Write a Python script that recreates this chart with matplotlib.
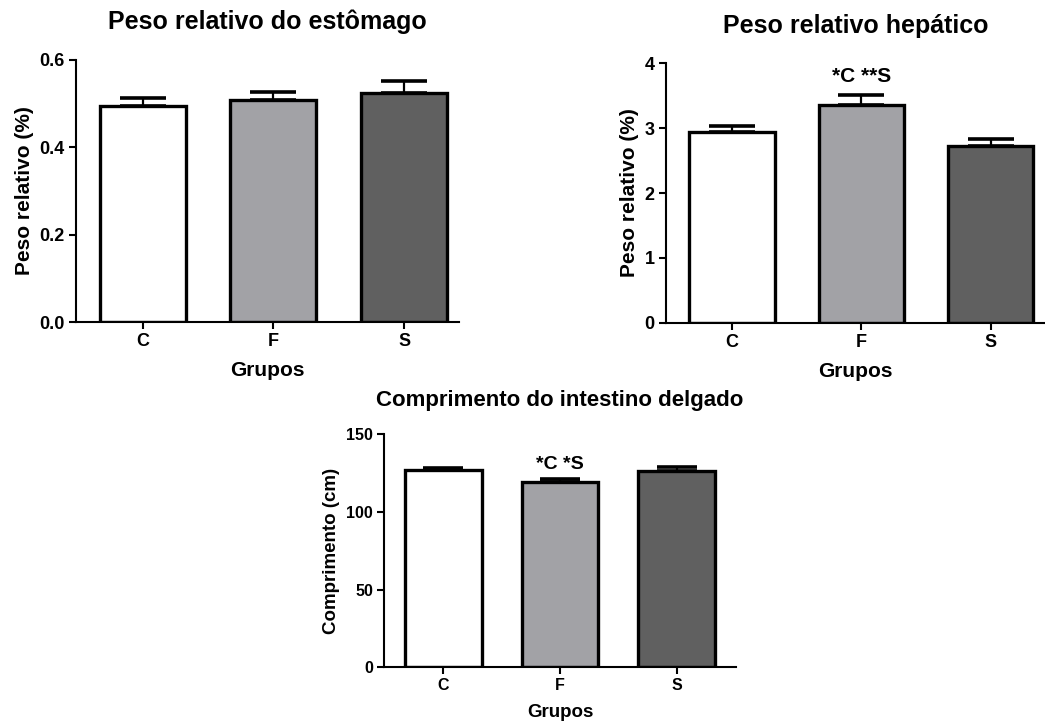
import matplotlib.pyplot as plt

plt.rcParams['font.family'] = ['Liberation Sans', 'DejaVu Sans']
plt.rcParams['font.weight'] = 'bold'

# ******************** DATA ********************
groups = ['C', 'F', 'S']
bar_colors = ['#ffffff', '#a2a2a6', '#606060']

stomach_mean = [0.495, 0.508, 0.524]
stomach_sem = [0.018, 0.019, 0.029]

liver_mean = [2.94, 3.36, 2.73]
liver_sem = [0.10, 0.15, 0.10]
liver_note = '*C **S'

intestine_mean = [126.9, 119.3, 126.4]
intestine_sem = [1.3, 2.0, 2.6]
intestine_note = '*C *S'


def barPanel(ax, means, sems, title, ylabel, yticks, xmax, capsize, note=None, note_y=None,
             fs_title=18, fs_tick=13, fs_label=15, fs_note=15, title_pad=22):
    x = range(len(groups))
    ax.bar(x, means, width=0.66, color=bar_colors, edgecolor='black', linewidth=2.4, zorder=2)
    # upper error bar only, drawn behind the bar
    ax.errorbar(x, means, yerr=[[0] * len(sems), sems], fmt='none', ecolor='black',
                elinewidth=1.6, capsize=capsize, capthick=2.6, zorder=1)
    ax.set_xlim(-0.51, xmax)
    ax.set_ylim(yticks[0], yticks[-1])
    ax.set_yticks(yticks)
    ax.set_xticks(list(x))
    ax.set_xticklabels(groups)
    ax.spines['top'].set_visible(False)
    ax.spines['right'].set_visible(False)
    ax.spines['left'].set_linewidth(1.5)
    ax.spines['bottom'].set_linewidth(1.5)
    ax.tick_params(direction='out', length=5, width=1.5, labelsize=fs_tick, pad=3)
    ax.set_title(title, fontsize=fs_title, fontweight='bold', pad=title_pad)
    ax.set_ylabel(ylabel, fontsize=fs_label, fontweight='bold')
    ax.set_xlabel('Grupos', fontsize=fs_label, fontweight='bold', labelpad=8)
    if note:
        ax.text(1, note_y, note, ha='center', va='center', fontsize=fs_note, fontweight='bold')


fig = plt.figure(figsize=(10.45, 7.22), dpi=100)

ax1 = fig.add_axes([0.0727, 0.554, 0.3665, 0.3629])
barPanel(ax1, stomach_mean, stomach_sem, 'Peso relativo do estômago', 'Peso relativo (%)',
         [0.0, 0.2, 0.4, 0.6], 2.42, 16.5)
ax1.set_yticklabels(['0.0', '0.2', '0.4', '0.6'])

ax2 = fig.add_axes([0.6373, 0.553, 0.3627, 0.3593])
barPanel(ax2, liver_mean, liver_sem, 'Peso relativo hepático', 'Peso relativo (%)',
         [0, 1, 2, 3, 4], 2.42, 16.5, note=liver_note, note_y=3.79)

ax3 = fig.add_axes([0.3675, 0.0758, 0.3368, 0.3231])
barPanel(ax3, intestine_mean, intestine_sem, 'Comprimento do intestino delgado', 'Comprimento (cm)',
         [0, 50, 100, 150], 2.51, 14.4, note=intestine_note, note_y=130.7,
         fs_title=16, fs_tick=11.5, fs_label=13.5, fs_note=14, title_pad=20)

plt.savefig('out.png', dpi=100)
